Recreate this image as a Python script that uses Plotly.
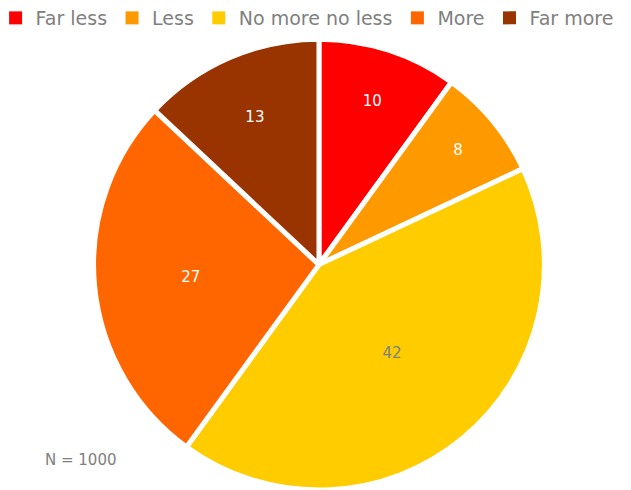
import plotly.graph_objects as go

labels = ["Far less", "Less", "No more no less", "More", "Far more"]
values = [10, 8, 42, 27, 13]
colors = ["#FF0000", "#FF9900", "#FFCC00", "#FF6600", "#993300"]
text_colors = ["#FFFFFF", "#FFFFFF", "#808080", "#FFFFFF", "#FFFFFF"]

fig = go.Figure()
fig.add_trace(go.Pie(
    labels=labels,
    values=values,
    sort=False,
    direction="clockwise",
    rotation=0,
    marker=dict(colors=colors, line=dict(color="#FFFFFF", width=5)),
    textinfo="value",
    textposition="inside",
    insidetextorientation="horizontal",
    insidetextfont=dict(color=text_colors, size=15, family="DejaVu Sans"),
    domain=dict(x=[0.148, 0.863], y=[0, 0.92]),
    hoverinfo="label+value",
    showlegend=False,
))

# legend entries with square swatches
for lab, col in zip(labels, colors):
    fig.add_trace(go.Scatter(
        x=[None], y=[None], mode="markers", name=lab,
        marker=dict(symbol="square", size=13, color=col),
    ))

fig.update_layout(
    width=631, height=490,
    margin=dict(l=0, r=0, t=0, b=0, autoexpand=False),
    paper_bgcolor="#FFFFFF",
    plot_bgcolor="rgba(0,0,0,0)",
    xaxis=dict(visible=False),
    yaxis=dict(visible=False),
    font=dict(family="DejaVu Sans", color="#808080"),
    legend=dict(orientation="h", x=-0.007, y=1.002, xanchor="left", yanchor="top",
                font=dict(size=19, color="#808080"), itemwidth=30,
                traceorder="normal"),
    annotations=[dict(text="N = 1000", x=0.068, y=0.061, xref="paper", yref="paper",
                      xanchor="left", yanchor="middle", showarrow=False,
                      font=dict(size=15, color="#808080"))],
)

fig.write_html("out.html", config={"displayModeBar": False},
               post_script="document.body.style.margin='0';")
